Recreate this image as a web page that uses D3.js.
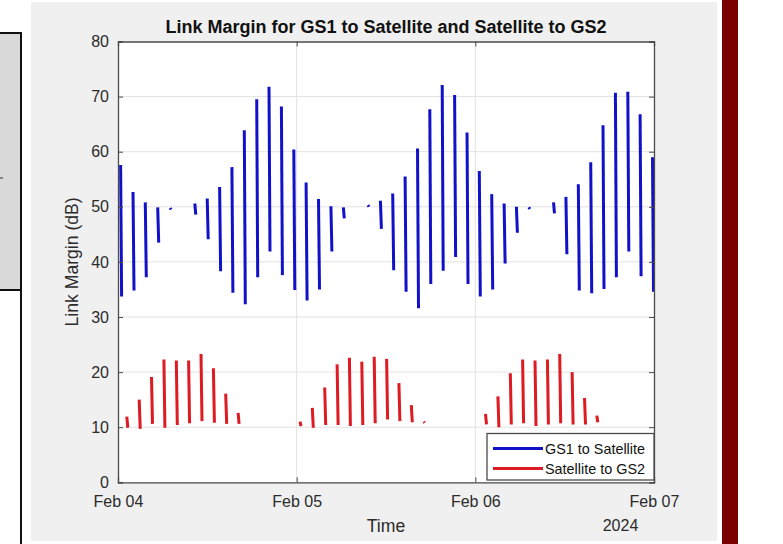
<!DOCTYPE html>
<html>
<head>
<meta charset="utf-8">
<script src="https://cdn.jsdelivr.net/npm/d3@7"></script>
<style>
  html, body { margin: 0; padding: 0; background: #ffffff; }
  svg { display: block; font-family: "Liberation Sans", Arial, Helvetica, sans-serif; }
</style>
</head>
<body>
<svg id="chart" width="783" height="544"></svg>
<script>
// Pass start times (UTC) and link-margin extremes per pass, in dB
const gs1Times = [
  "2024-02-04T00:21", "2024-02-04T02:01", "2024-02-04T03:40", "2024-02-04T05:20", "2024-02-04T07:00",
  "2024-02-04T10:19", "2024-02-04T11:59", "2024-02-04T13:39", "2024-02-04T15:18", "2024-02-04T16:58",
  "2024-02-04T18:38", "2024-02-04T20:17", "2024-02-04T21:57", "2024-02-04T23:37", "2024-02-05T01:16",
  "2024-02-05T02:56", "2024-02-05T04:36", "2024-02-05T06:16", "2024-02-05T09:35", "2024-02-05T11:15",
  "2024-02-05T12:54", "2024-02-05T14:34", "2024-02-05T16:14", "2024-02-05T17:53", "2024-02-05T19:33",
  "2024-02-05T21:13", "2024-02-05T22:53", "2024-02-06T00:32", "2024-02-06T02:12", "2024-02-06T03:52",
  "2024-02-06T05:31", "2024-02-06T07:11", "2024-02-06T10:30", "2024-02-06T12:10", "2024-02-06T13:50",
  "2024-02-06T15:30", "2024-02-06T17:09", "2024-02-06T18:49", "2024-02-06T20:29", "2024-02-06T22:08",
  "2024-02-06T23:48"
];
const gs1High = [
  57.6, 52.7, 50.8, 49.9, 49.8,
  50.6, 51.5, 53.6, 57.2, 63.9,
  69.5, 71.8, 68.2, 60.4, 54.4,
  51.4, 50.1, 49.9, 50.3, 51.1,
  52.4, 55.5, 60.6, 67.7, 72.1,
  70.3, 63.5, 56.5, 52.3, 50.6,
  50.0, 49.9, 50.8, 51.8, 54.1,
  58.1, 64.8, 70.7, 70.9, 66.8,
  59.0
];
const gs1Low = [
  33.7, 34.8, 37.2, 43.5, 49.5,
  48.6, 44.1, 38.3, 34.4, 32.3,
  37.2, 41.9, 37.6, 34.9, 33.0,
  35.0, 41.9, 47.9, 50.0, 46.0,
  38.5, 34.6, 31.6, 36.0, 38.4,
  40.9, 36.0, 33.7, 35.0, 39.7,
  45.3, 49.6, 48.8, 41.4, 34.8,
  34.3, 35.1, 37.2, 41.9, 37.4,
  34.6
];

const gs2Times = [
  "2024-02-04T01:11", "2024-02-04T02:51", "2024-02-04T04:30", "2024-02-04T06:10", "2024-02-04T07:50",
  "2024-02-04T09:29", "2024-02-04T11:09", "2024-02-04T12:49", "2024-02-04T14:28", "2024-02-04T16:08",
  "2024-02-05T00:27", "2024-02-05T02:06", "2024-02-05T03:46", "2024-02-05T05:26", "2024-02-05T07:05",
  "2024-02-05T08:45", "2024-02-05T10:25", "2024-02-05T12:05", "2024-02-05T13:44", "2024-02-05T15:24",
  "2024-02-05T17:04", "2024-02-06T01:22", "2024-02-06T03:02", "2024-02-06T04:42", "2024-02-06T06:21",
  "2024-02-06T08:01", "2024-02-06T09:41", "2024-02-06T11:20", "2024-02-06T13:00", "2024-02-06T14:40",
  "2024-02-06T16:19"
];
const gs2High = [
  11.9, 15.0, 19.1, 22.3, 22.1,
  22.1, 23.3, 20.7, 16.1, 12.6,
  11.0, 13.5, 17.2, 21.4, 22.6,
  21.9, 22.8, 22.4, 18.0, 14.0,
  11.0, 12.4, 15.6, 19.8, 22.3,
  22.1, 22.3, 23.3, 20.0, 15.3,
  12.1
];
const gs2Low = [
  9.9, 9.7, 10.6, 9.9, 10.4,
  10.7, 11.1, 10.8, 10.6, 10.6,
  10.2, 9.9, 10.4, 10.4, 10.2,
  10.4, 10.7, 11.4, 11.1, 10.9,
  10.8, 10.5, 10.0, 10.5, 10.7,
  10.2, 10.5, 10.7, 10.5, 10.5,
  10.9
];

const yTicks = [0, 10, 20, 30, 40, 50, 60, 70, 80];
const xTickDates = ["2024-02-04", "2024-02-05", "2024-02-06", "2024-02-07"];
const seriesNames = ["GS1 to Satellite", "Satellite to GS2"];
const seriesColors = ["#1111c8", "#de1a22"];

const parseTime = d3.utcParse("%Y-%m-%dT%H:%M");
const parseDay = d3.utcParse("%Y-%m-%d");
const passMinutes = 8;

const svg = d3.select("#chart");

// Surrounding window furniture
svg.append("rect").attr("x", -2).attr("y", 33).attr("width", 23).attr("height", 257)
  .attr("fill", "#dadada").attr("stroke", "#111").attr("stroke-width", 2);
svg.append("line").attr("x1", 21).attr("x2", 21).attr("y1", 290).attr("y2", 544)
  .attr("stroke", "#111").attr("stroke-width", 2);
svg.append("line").attr("x1", 0).attr("x2", 3).attr("y1", 178).attr("y2", 178)
  .attr("stroke", "#333").attr("stroke-width", 1);
svg.append("rect").attr("x", 31).attr("y", 2).attr("width", 686).attr("height", 539)
  .attr("fill", "#f0f0f0");
svg.append("rect").attr("x", 722).attr("y", 0).attr("width", 16).attr("height", 544)
  .attr("fill", "#7a0000");

// Axes geometry
const axLeft = 118, axRight = 654, axTop = 41.5, axBottom = 482.3;

const x = d3.scaleUtc()
  .domain([parseDay(xTickDates[0]), parseDay(xTickDates[xTickDates.length - 1])])
  .range([axLeft, axRight]);
const y = d3.scaleLinear().domain([0, 80]).range([axBottom, axTop]);

const xTicks = xTickDates.map(parseDay);
const axisColor = "#4a4a4a";
const textColor = "#2b2b2b";

svg.append("rect").attr("x", axLeft).attr("y", axTop)
  .attr("width", axRight - axLeft).attr("height", axBottom - axTop).attr("fill", "#ffffff");

// Grid
const grid = svg.append("g");
grid.selectAll("line.gy").data(yTicks.slice(1, -1)).join("line")
  .attr("x1", axLeft).attr("x2", axRight)
  .attr("y1", d => y(d)).attr("y2", d => y(d))
  .attr("stroke", "#e2e2e2").attr("stroke-width", 1);
grid.selectAll("line.gx").data(xTicks.slice(1, -1)).join("line")
  .attr("x1", d => x(d)).attr("x2", d => x(d))
  .attr("y1", axTop).attr("y2", axBottom)
  .attr("stroke", "#e2e2e2").attr("stroke-width", 1);

// Passes
const line = d3.line().x(d => x(d[0])).y(d => y(d[1]));
function passes(times, hi, lo) {
  return times.map((t, i) => {
    const t0 = parseTime(t);
    const t1 = new Date(t0.getTime() + passMinutes * 60000);
    return [[t0, hi[i]], [t1, lo[i]]];
  });
}
const plot = svg.append("g");
plot.selectAll("path.gs1").data(passes(gs1Times, gs1High, gs1Low)).join("path")
  .attr("class", "gs1").attr("d", line)
  .attr("fill", "none").attr("stroke", seriesColors[0]).attr("stroke-width", 3);
plot.selectAll("path.gs2").data(passes(gs2Times, gs2High, gs2Low)).join("path")
  .attr("class", "gs2").attr("d", line)
  .attr("fill", "none").attr("stroke", seriesColors[1]).attr("stroke-width", 3);

// Axes with inward ticks on all four sides
const tickLen = 5;
const xAxisB = d3.axisBottom(x).tickValues(xTicks).tickSize(-tickLen).tickPadding(13)
  .tickFormat(d3.utcFormat("%b %d"));
const gxb = svg.append("g").attr("transform", `translate(0,${axBottom})`).call(xAxisB);
const xAxisT = d3.axisTop(x).tickValues(xTicks).tickSize(-tickLen).tickFormat("");
const gxt = svg.append("g").attr("transform", `translate(0,${axTop})`).call(xAxisT);
const yAxisL = d3.axisLeft(y).tickValues(yTicks).tickSize(-tickLen).tickPadding(9);
const gyl = svg.append("g").attr("transform", `translate(${axLeft},0)`).call(yAxisL);
const yAxisR = d3.axisRight(y).tickValues(yTicks).tickSize(-tickLen).tickFormat("");
const gyr = svg.append("g").attr("transform", `translate(${axRight},0)`).call(yAxisR);

[gxb, gxt, gyl, gyr].forEach(g => {
  g.select(".domain").attr("stroke", axisColor).attr("stroke-width", 1.3);
  g.selectAll(".tick line").attr("stroke", axisColor).attr("stroke-width", 1);
  g.selectAll(".tick text").attr("fill", textColor).attr("font-size", 16)
    .attr("font-family", "'Liberation Sans', Arial, sans-serif");
});

// Titles and labels
svg.append("text").attr("x", (axLeft + axRight) / 2).attr("y", 33)
  .attr("text-anchor", "middle").attr("font-weight", "bold").attr("font-size", 18)
  .attr("fill", "#111").text("Link Margin for GS1 to Satellite and Satellite to GS2");
svg.append("text").attr("x", (axLeft + axRight) / 2).attr("y", 532)
  .attr("text-anchor", "middle").attr("font-size", 17.6).attr("fill", textColor).text("Time");
svg.append("text").attr("x", 620.5).attr("y", 531)
  .attr("text-anchor", "middle").attr("font-size", 16).attr("fill", textColor).text("2024");
svg.append("text").attr("transform", `translate(78,${(axTop + axBottom) / 2}) rotate(-90)`)
  .attr("text-anchor", "middle").attr("font-size", 17.6).attr("fill", textColor)
  .text("Link Margin (dB)");

// Legend
const lg = svg.append("g");
lg.append("rect").attr("x", 487).attr("y", 433.5).attr("width", axRight - 487).attr("height", 46.5)
  .attr("fill", "#ffffff").attr("stroke", axisColor).attr("stroke-width", 1.3);
seriesNames.forEach((name, i) => {
  const cy = 448.5 + i * 20;
  lg.append("line").attr("x1", 493).attr("x2", 543).attr("y1", cy).attr("y2", cy)
    .attr("stroke", seriesColors[i]).attr("stroke-width", 3.2);
  lg.append("text").attr("x", 545).attr("y", cy).attr("dy", "0.35em")
    .attr("font-size", 14.4).attr("fill", "#111").text(name);
});
</script>
</body>
</html>
